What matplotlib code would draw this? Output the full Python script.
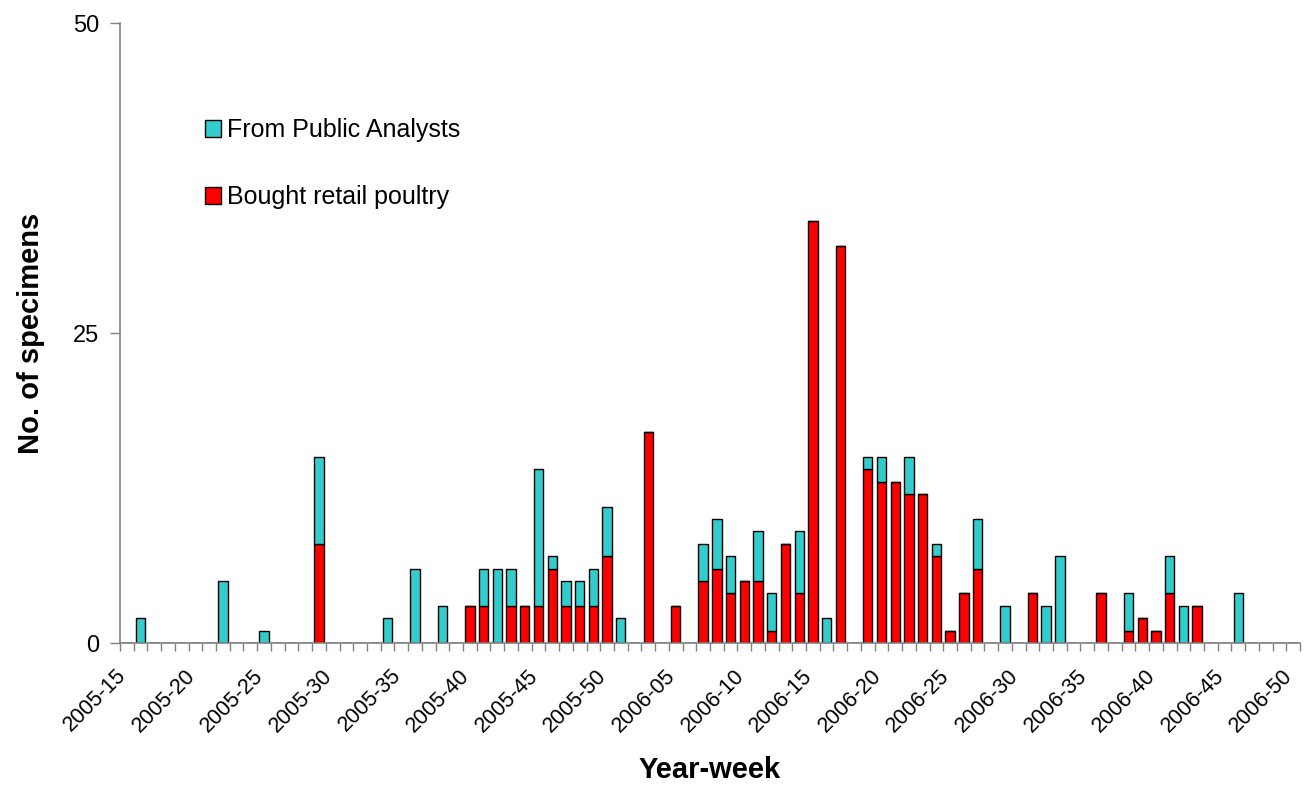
import numpy as np
import matplotlib.pyplot as plt
import matplotlib.transforms as mtransforms

plt.rcParams['font.family'] = ['Liberation Sans', 'DejaVu Sans']

# Year-week categories (86 weeks shown)
weeks = ["2005-%02d" % w for w in range(15, 51)] + ["2006-%02d" % w for w in range(1, 51)]

# counts per week, index -> value (all other weeks are zero)
retail_idx = [14, 25, 26, 28, 29, 30, 31, 32, 33, 34, 35, 38, 40, 42, 43, 44, 45, 46, 47, 48,
              49, 50, 52, 54, 55, 56, 57, 58, 59, 60, 61, 62, 66, 71, 73, 74, 75, 76, 78]
retail_val = [8, 3, 3, 3, 3, 3, 6, 3, 3, 3, 7, 17, 3, 5, 6, 4, 5, 5, 1, 8,
              4, 34, 32, 14, 13, 13, 12, 12, 7, 1, 4, 6, 4, 4, 1, 2, 1, 4, 3]

public_idx = [1, 7, 10, 14, 19, 21, 23, 26, 27, 28, 30, 31, 32, 33, 34, 35, 36, 42, 43, 44,
              46, 47, 49, 51, 54, 55, 57, 59, 62, 64, 67, 68, 73, 76, 77, 81]
public_val = [2, 5, 1, 7, 2, 6, 3, 3, 6, 3, 11, 1, 2, 2, 3, 4, 2, 3, 4, 3,
              4, 3, 5, 2, 1, 2, 3, 1, 4, 3, 3, 7, 3, 3, 3, 4]

retail = np.zeros(len(weeks))
retail[retail_idx] = retail_val
public = np.zeros(len(weeks))
public[public_idx] = public_val

x = np.arange(len(weeks))

fig = plt.figure(figsize=(13.11, 7.89), dpi=100)
ax = fig.add_axes([120 / 1311, 1 - 643 / 789, 1180 / 1311, 620 / 789])

red = ax.bar(x, retail, width=0.68, color="#FF0000", edgecolor="black", linewidth=1.0,
             label="Bought retail poultry")
cyan = ax.bar(x, public, bottom=retail, width=0.68, color="#33CCCC", edgecolor="black",
              linewidth=1.0, label="From Public Analysts")

ax.set_xlim(-0.5, len(weeks) - 0.5)
ax.set_ylim(0, 50)
ax.set_yticks([0, 25, 50])
ax.tick_params(axis="y", labelsize=17, length=7, width=1, color="#808080", pad=8)

# labels every 5th week, tick marks at category borders
ax.set_xticks(x[::5])
ax.set_xticklabels(weeks[::5], rotation=45, ha="right", rotation_mode="anchor", fontsize=15.5)
ax.tick_params(axis="x", which="major", length=0, pad=16)
ax.set_xticks(np.arange(-0.5, len(weeks)), minor=True)
ax.tick_params(axis="x", which="minor", length=6, width=1, color="#808080")
shift = mtransforms.ScaledTranslation(-11 / 100, 0, fig.dpi_scale_trans)
for lab in ax.get_xticklabels():
    lab.set_transform(lab.get_transform() + shift)

for s in ["top", "right"]:
    ax.spines[s].set_visible(False)
for s in ["left", "bottom"]:
    ax.spines[s].set_color("#808080")
    ax.spines[s].set_linewidth(1.2)

ax.set_xlabel("Year-week", fontsize=21, fontweight="bold", labelpad=14)
ax.set_ylabel("No. of specimens", fontsize=21, fontweight="bold", labelpad=20)

ax.legend([cyan, red], ["From Public Analysts", "Bought retail poultry"],
          loc="upper left", bbox_to_anchor=(192 / 1311, 1 - 106 / 789),
          bbox_transform=fig.transFigure, frameon=False, fontsize=18,
          handlelength=0.65, handleheight=0.65, handletextpad=0.25, labelspacing=1.7,
          borderpad=0)

fig.savefig("out.png", dpi=100)
